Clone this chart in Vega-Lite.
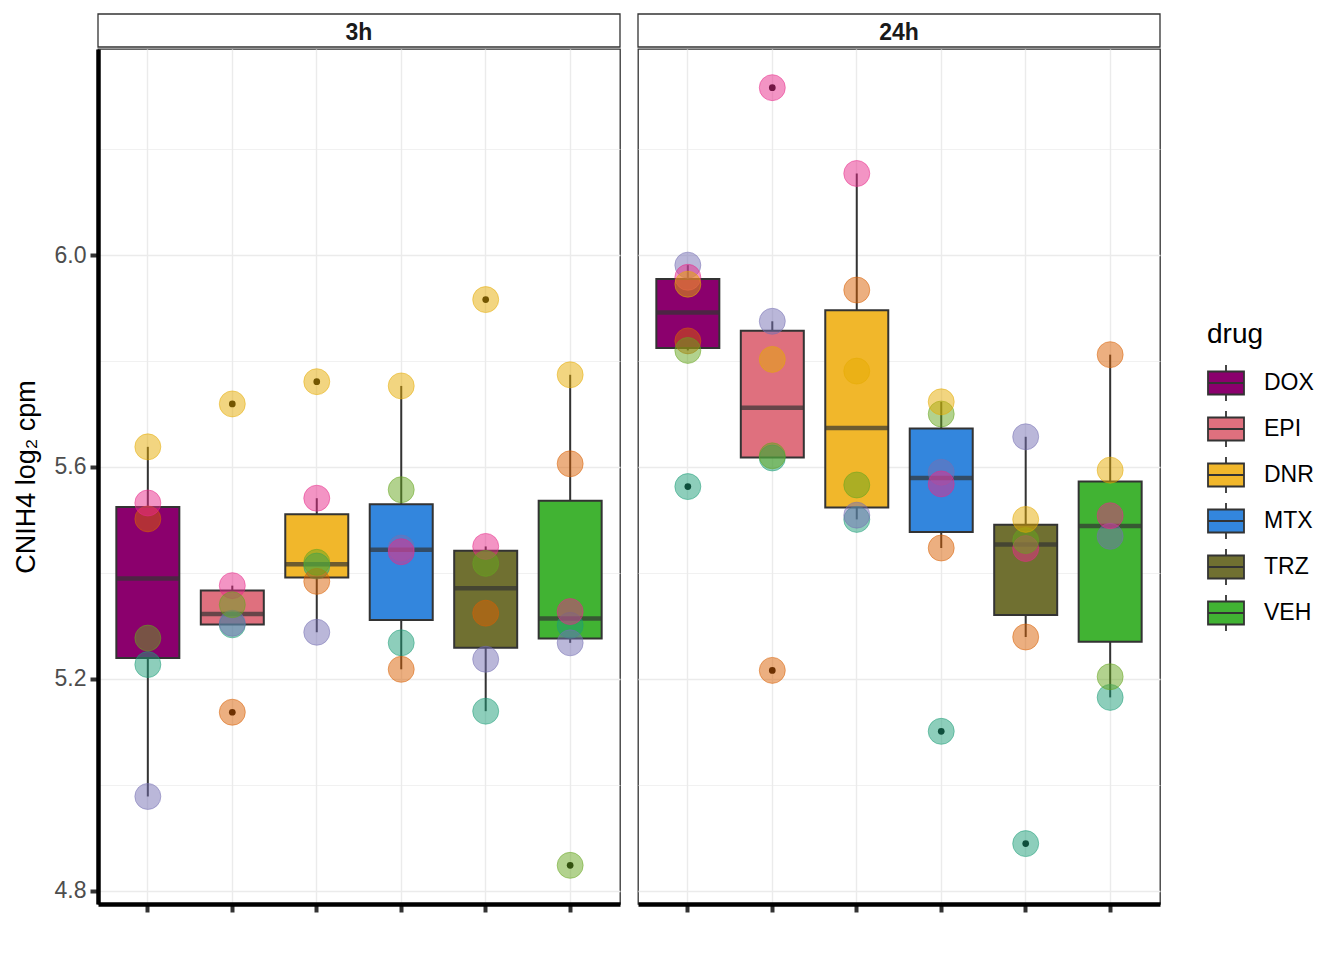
{
  "$schema": "https://vega.github.io/schema/vega-lite/v6.json",
  "padding": {"left": 11, "top": 13, "right": 0, "bottom": 0},
  "background": "white",
  "config": {
    "font": "Liberation Sans",
    "view": {"stroke": "#333333", "strokeWidth": 1.3},
    "axis": {"labelFont": "Liberation Sans", "titleFont": "Liberation Sans"},
    "legend": {"labelFont": "Liberation Sans", "titleFont": "Liberation Sans"}
  },
  "datasets": {
    "expr": [
      {"time": "3h", "drug": "DOX", "ind": "1", "value": 5.227},
      {"time": "3h", "drug": "DOX", "ind": "2", "value": 5.502},
      {"time": "3h", "drug": "DOX", "ind": "3", "value": 4.978},
      {"time": "3h", "drug": "DOX", "ind": "4", "value": 5.532},
      {"time": "3h", "drug": "DOX", "ind": "5", "value": 5.277},
      {"time": "3h", "drug": "DOX", "ind": "6", "value": 5.638},
      {"time": "3h", "drug": "EPI", "ind": "1", "value": 5.302},
      {"time": "3h", "drug": "EPI", "ind": "2", "value": 5.137},
      {"time": "3h", "drug": "EPI", "ind": "3", "value": 5.305},
      {"time": "3h", "drug": "EPI", "ind": "4", "value": 5.376},
      {"time": "3h", "drug": "EPI", "ind": "5", "value": 5.340},
      {"time": "3h", "drug": "EPI", "ind": "6", "value": 5.719},
      {"time": "3h", "drug": "DNR", "ind": "1", "value": 5.413},
      {"time": "3h", "drug": "DNR", "ind": "2", "value": 5.384},
      {"time": "3h", "drug": "DNR", "ind": "3", "value": 5.288},
      {"time": "3h", "drug": "DNR", "ind": "4", "value": 5.541},
      {"time": "3h", "drug": "DNR", "ind": "5", "value": 5.420},
      {"time": "3h", "drug": "DNR", "ind": "6", "value": 5.761},
      {"time": "3h", "drug": "MTX", "ind": "1", "value": 5.268},
      {"time": "3h", "drug": "MTX", "ind": "2", "value": 5.218},
      {"time": "3h", "drug": "MTX", "ind": "3", "value": 5.447},
      {"time": "3h", "drug": "MTX", "ind": "4", "value": 5.440},
      {"time": "3h", "drug": "MTX", "ind": "5", "value": 5.557},
      {"time": "3h", "drug": "MTX", "ind": "6", "value": 5.753},
      {"time": "3h", "drug": "TRZ", "ind": "1", "value": 5.139},
      {"time": "3h", "drug": "TRZ", "ind": "2", "value": 5.324},
      {"time": "3h", "drug": "TRZ", "ind": "3", "value": 5.237},
      {"time": "3h", "drug": "TRZ", "ind": "4", "value": 5.450},
      {"time": "3h", "drug": "TRZ", "ind": "5", "value": 5.418},
      {"time": "3h", "drug": "TRZ", "ind": "6", "value": 5.916},
      {"time": "3h", "drug": "VEH", "ind": "1", "value": 5.301},
      {"time": "3h", "drug": "VEH", "ind": "2", "value": 5.606},
      {"time": "3h", "drug": "VEH", "ind": "3", "value": 5.268},
      {"time": "3h", "drug": "VEH", "ind": "4", "value": 5.327},
      {"time": "3h", "drug": "VEH", "ind": "5", "value": 4.848},
      {"time": "3h", "drug": "VEH", "ind": "6", "value": 5.774},
      {"time": "24h", "drug": "DOX", "ind": "1", "value": 5.563},
      {"time": "24h", "drug": "DOX", "ind": "2", "value": 5.838},
      {"time": "24h", "drug": "DOX", "ind": "3", "value": 5.981},
      {"time": "24h", "drug": "DOX", "ind": "4", "value": 5.958},
      {"time": "24h", "drug": "DOX", "ind": "5", "value": 5.820},
      {"time": "24h", "drug": "DOX", "ind": "6", "value": 5.945},
      {"time": "24h", "drug": "EPI", "ind": "1", "value": 5.617},
      {"time": "24h", "drug": "EPI", "ind": "2", "value": 5.216},
      {"time": "24h", "drug": "EPI", "ind": "3", "value": 5.875},
      {"time": "24h", "drug": "EPI", "ind": "4", "value": 6.316},
      {"time": "24h", "drug": "EPI", "ind": "5", "value": 5.621},
      {"time": "24h", "drug": "EPI", "ind": "6", "value": 5.803},
      {"time": "24h", "drug": "DNR", "ind": "1", "value": 5.501},
      {"time": "24h", "drug": "DNR", "ind": "2", "value": 5.934},
      {"time": "24h", "drug": "DNR", "ind": "3", "value": 5.509},
      {"time": "24h", "drug": "DNR", "ind": "4", "value": 6.154},
      {"time": "24h", "drug": "DNR", "ind": "5", "value": 5.566},
      {"time": "24h", "drug": "DNR", "ind": "6", "value": 5.781},
      {"time": "24h", "drug": "MTX", "ind": "1", "value": 5.101},
      {"time": "24h", "drug": "MTX", "ind": "2", "value": 5.447},
      {"time": "24h", "drug": "MTX", "ind": "3", "value": 5.590},
      {"time": "24h", "drug": "MTX", "ind": "4", "value": 5.568},
      {"time": "24h", "drug": "MTX", "ind": "5", "value": 5.700},
      {"time": "24h", "drug": "MTX", "ind": "6", "value": 5.723},
      {"time": "24h", "drug": "TRZ", "ind": "1", "value": 4.889},
      {"time": "24h", "drug": "TRZ", "ind": "2", "value": 5.279},
      {"time": "24h", "drug": "TRZ", "ind": "3", "value": 5.657},
      {"time": "24h", "drug": "TRZ", "ind": "4", "value": 5.446},
      {"time": "24h", "drug": "TRZ", "ind": "5", "value": 5.461},
      {"time": "24h", "drug": "TRZ", "ind": "6", "value": 5.501},
      {"time": "24h", "drug": "VEH", "ind": "1", "value": 5.165},
      {"time": "24h", "drug": "VEH", "ind": "2", "value": 5.812},
      {"time": "24h", "drug": "VEH", "ind": "3", "value": 5.469},
      {"time": "24h", "drug": "VEH", "ind": "4", "value": 5.508},
      {"time": "24h", "drug": "VEH", "ind": "5", "value": 5.204},
      {"time": "24h", "drug": "VEH", "ind": "6", "value": 5.594}
    ]
  },
  "hconcat": [
    {
      "spacing": 0,
      "vconcat": [
        {
          "width": 522, "height": 33,
          "data": {"values": [{"time": "3h"}]},
          "layer": [
            {"mark": {"type": "rect", "fill": "white", "stroke": "#333333", "strokeWidth": 1.3}, "encoding": {}},
            {"mark": {"type": "text", "fontSize": 23, "fontWeight": "bold", "color": "#1A1A1A", "baseline": "middle", "align": "center", "dy": 2},
             "encoding": {"text": {"field": "time", "type": "nominal"}}}
          ]
        },
        {
          "width": 522, "height": 855,
          "data": {"name": "expr"},
          "transform": [{"filter": "datum.time === '3h'"}],
          "encoding": {
            "x": {"field": "drug", "type": "nominal", "sort": ["DOX", "EPI", "DNR", "MTX", "TRZ", "VEH"],
              "scale": {"paddingInner": 0, "paddingOuter": 0.09},
              "axis": {"labels": false, "title": null, "ticks": true, "tickColor": "#333333", "tickWidth": 4, "tickSize": 8, "domainColor": "black", "domainWidth": 4.5, "grid": true, "gridColor": "#EBEBEB", "gridWidth": 1.4, "bandPosition": 0.5}},
            "y": {"field": "value", "type": "quantitative",
              "scale": {"domain": [4.775, 6.389], "nice": false, "zero": false},
              "axis": {"values": [4.8, 5.0, 5.2, 5.4, 5.6, 5.8, 6.0, 6.2],
                "labelExpr": "round(datum.value*10)%4===0 ? format(datum.value,'.1f') : ''",
                "tickOpacity": {"condition": {"test": "round(datum.value*10)%4===0", "value": 1}, "value": 0},
                "gridWidth": {"condition": {"test": "round(datum.value*10)%4===0", "value": 1.4}, "value": 0.7},
                "gridColor": "#EBEBEB", "grid": true,
                "tickColor": "#333333", "tickWidth": 4, "tickSize": 8,
                "domainColor": "black", "domainWidth": 4.5,
                "labelFontSize": 23, "labelColor": "#4D4D4D", "labelPadding": 4,
                "title": "CNIH4 log₂ cpm", "titleFontSize": 27, "titleFontWeight": "normal", "titleColor": "black", "titlePadding": 14}}
          },
          "layer": [
            {
              "mark": {"type": "boxplot", "extent": 1.5, "size": 63,
                "box": {"stroke": "#333333", "strokeWidth": 2},
                "median": {"color": "#333333", "thickness": 4.5},
                "rule": {"color": "#333333", "strokeWidth": 2},
                "outliers": false},
              "encoding": {
                "color": {"field": "drug", "type": "nominal",
                  "scale": {"domain": ["DOX", "EPI", "DNR", "MTX", "TRZ", "VEH"], "range": ["#8B006D", "#DF707E", "#F1B72B", "#3386DD", "#707031", "#41B333"]},
                  "legend": {"title": "drug", "orient": "none", "legendX": 1109, "legendY": 307,
                    "symbolType": "M-1,-0.64H1V0.64H-1Z M-1,0H1 M0,-0.64V-1 M0,0.64V1",
                    "symbolSize": 1296, "symbolStrokeColor": "#333333", "symbolStrokeWidth": 1.8, "symbolOpacity": 1,
                    "labelFontSize": 23, "labelColor": "black", "labelOffset": 19,
                    "titleFontSize": 28, "titleFontWeight": "normal", "titleColor": "black", "titlePadding": 15,
                    "rowPadding": 2}}
              }
            },
            {
              "transform": [
                {"joinaggregate": [{"op": "q1", "field": "value", "as": "q1"}, {"op": "q3", "field": "value", "as": "q3"}], "groupby": ["drug"]},
                {"filter": "datum.value < datum.q1 - 1.5*(datum.q3-datum.q1) || datum.value > datum.q3 + 1.5*(datum.q3-datum.q1)"}
              ],
              "mark": {"type": "circle", "size": 45, "color": "black", "opacity": 1}
            },
            {
              "mark": {"type": "circle", "size": 676, "fillOpacity": 0.5, "strokeOpacity": 0.5, "strokeWidth": 1},
              "encoding": {
                "fill": {"field": "ind", "type": "nominal", "scale": {"domain": ["1", "2", "3", "4", "5", "6"], "range": ["#1B9E77", "#D95F02", "#7570B3", "#E7298A", "#66A61E", "#E6AB02"]}, "legend": null},
                "stroke": {"field": "ind", "type": "nominal", "scale": {"domain": ["1", "2", "3", "4", "5", "6"], "range": ["#1B9E77", "#D95F02", "#7570B3", "#E7298A", "#66A61E", "#E6AB02"]}, "legend": null}
              }
            }
          ]
        }
      ]
    },
    {
      "spacing": 0,
      "vconcat": [
        {
          "width": 522, "height": 33,
          "data": {"values": [{"time": "24h"}]},
          "layer": [
            {"mark": {"type": "rect", "fill": "white", "stroke": "#333333", "strokeWidth": 1.3}, "encoding": {}},
            {"mark": {"type": "text", "fontSize": 23, "fontWeight": "bold", "color": "#1A1A1A", "baseline": "middle", "align": "center", "dy": 2},
             "encoding": {"text": {"field": "time", "type": "nominal"}}}
          ]
        },
        {
          "width": 522, "height": 855,
          "data": {"name": "expr"},
          "transform": [{"filter": "datum.time === '24h'"}],
          "encoding": {
            "x": {"field": "drug", "type": "nominal", "sort": ["DOX", "EPI", "DNR", "MTX", "TRZ", "VEH"],
              "scale": {"paddingInner": 0, "paddingOuter": 0.09},
              "axis": {"labels": false, "title": null, "ticks": true, "tickColor": "#333333", "tickWidth": 4, "tickSize": 8, "domainColor": "black", "domainWidth": 4.5, "grid": true, "gridColor": "#EBEBEB", "gridWidth": 1.4, "bandPosition": 0.5}},
            "y": {"field": "value", "type": "quantitative",
              "scale": {"domain": [4.775, 6.389], "nice": false, "zero": false},
              "axis": {"values": [4.8, 5.0, 5.2, 5.4, 5.6, 5.8, 6.0, 6.2],
                "labels": false, "ticks": false, "domain": false, "title": null,
                "gridWidth": {"condition": {"test": "round(datum.value*10)%4===0", "value": 1.4}, "value": 0.7},
                "gridColor": "#EBEBEB", "grid": true}}
          },
          "layer": [
            {
              "mark": {"type": "boxplot", "extent": 1.5, "size": 63,
                "box": {"stroke": "#333333", "strokeWidth": 2},
                "median": {"color": "#333333", "thickness": 4.5},
                "rule": {"color": "#333333", "strokeWidth": 2},
                "outliers": false},
              "encoding": {
                "color": {"field": "drug", "type": "nominal",
                  "scale": {"domain": ["DOX", "EPI", "DNR", "MTX", "TRZ", "VEH"], "range": ["#8B006D", "#DF707E", "#F1B72B", "#3386DD", "#707031", "#41B333"]}}
              }
            },
            {
              "transform": [
                {"joinaggregate": [{"op": "q1", "field": "value", "as": "q1"}, {"op": "q3", "field": "value", "as": "q3"}], "groupby": ["drug"]},
                {"filter": "datum.value < datum.q1 - 1.5*(datum.q3-datum.q1) || datum.value > datum.q3 + 1.5*(datum.q3-datum.q1)"}
              ],
              "mark": {"type": "circle", "size": 45, "color": "black", "opacity": 1}
            },
            {
              "mark": {"type": "circle", "size": 676, "fillOpacity": 0.5, "strokeOpacity": 0.5, "strokeWidth": 1},
              "encoding": {
                "fill": {"field": "ind", "type": "nominal", "scale": {"domain": ["1", "2", "3", "4", "5", "6"], "range": ["#1B9E77", "#D95F02", "#7570B3", "#E7298A", "#66A61E", "#E6AB02"]}, "legend": null},
                "stroke": {"field": "ind", "type": "nominal", "scale": {"domain": ["1", "2", "3", "4", "5", "6"], "range": ["#1B9E77", "#D95F02", "#7570B3", "#E7298A", "#66A61E", "#E6AB02"]}, "legend": null}
              }
            }
          ]
        }
      ]
    }
  ],
  "spacing": 16
}
